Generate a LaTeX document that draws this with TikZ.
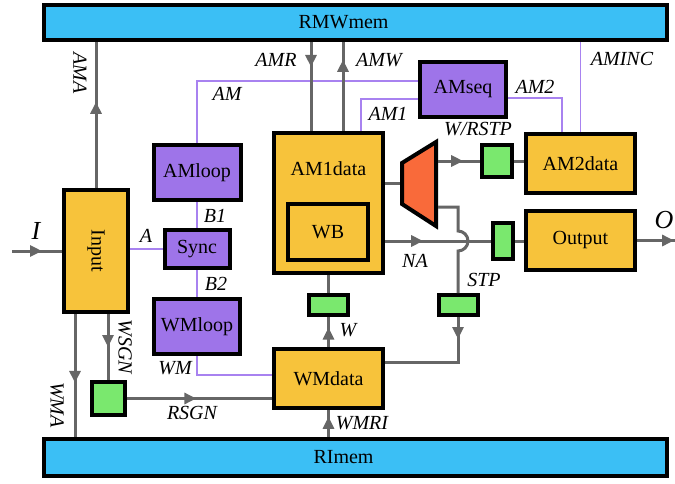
\documentclass[tikz,border=0pt]{standalone}
\usepackage{fontspec}
\setmainfont{Liberation Serif}
\usetikzlibrary{arrows.meta,decorations.markings,calc}
\definecolor{memblue}{RGB}{59,191,245}
\definecolor{datyellow}{RGB}{247,195,59}
\definecolor{ctlpurple}{RGB}{158,116,233}
\definecolor{reggreen}{RGB}{122,232,110}
\definecolor{muxred}{RGB}{249,106,58}
\definecolor{wiregray}{RGB}{102,102,102}
\definecolor{siglilac}{RGB}{168,130,240}
\begin{document}
\begin{tikzpicture}[
    x=1pt, y=-1pt, font=\fontsize{20}{24}\selectfont,
    blk/.style={draw=black, line width=4pt, inner sep=0pt},
    mem/.style={blk, fill=memblue, minimum width=623, minimum height=35},
    dat/.style={blk, fill=datyellow, minimum width=109, minimum height=59},
    ctl/.style={blk, fill=ctlpurple, minimum width=86, minimum height=55},
    reg/.style={blk, fill=reggreen, minimum width=39, minimum height=20},
    muxst/.style={draw=black, line width=4pt, fill=muxred},
    wire/.style={draw=wiregray, line width=3pt},
    sig/.style={draw=siglilac, line width=1.5pt},
    arrat/.style={postaction={decorate, decoration={markings,
        mark=at position #1 with {\arrow{Triangle[length=12pt,width=11pt]}}}}},
    lab/.style={inner sep=0pt, font=\fontsize{20}{24}\selectfont\itshape},
    biglab/.style={inner sep=0pt, font=\fontsize{26}{30}\selectfont\itshape},
]
\useasboundingbox (0,0) rectangle (675,483);
% Memories
\node[mem, label={[anchor=center,xshift=-12pt]center:RMWmem}] (rmw) at (355.5,22.5) {};
\node[mem, minimum height=37, label={[anchor=center,xshift=-12pt]center:RImem}] (rim) at (355.5,457.5) {};
% Data path blocks
\node[dat, minimum width=64, minimum height=122] (inp) at (96,251) {\rotatebox{-90}{Input}};
\node[dat, minimum height=140, label={[anchor=center,yshift=-38pt]north:AM1data}] (am1) at (328.5,203) {};
\node[dat, minimum width=80, minimum height=56] (wb) at (328,232) {WB};
\node[dat] (wmd) at (328.5,378.5) {WMdata};
\node[dat] (am2) at (580.5,163.5) {AM2data};
\node[dat] (out) at (580.5,240.5) {Output};
% Control blocks
\node[ctl] (ams) at (463,89) {AMseq};
\node[ctl, minimum width=87] (aml) at (197,172.5) {AMloop};
\node[ctl, minimum width=65, minimum height=38] (syn) at (197,249) {Sync};
\node[ctl] (wml) at (197,326.5) {WMloop};
% Registers
\node[reg, minimum width=33, minimum height=33] (rsg) at (108,398.5) {};
\node[reg] (wrg) at (328.5,305) {};
\node[reg] (stp) at (458,305) {};
\node[reg, minimum width=30, minimum height=32] (wrr) at (497,161) {};
\node[reg, minimum width=20, minimum height=36] (orr) at (503,241) {};
% Mux
\draw[muxst] (402,163) -- (436,142) -- (436,226) -- (402,204) -- cycle;
\coordinate (muxin) at (400,183.5);
\coordinate (muxA) at (438,161);
\coordinate (muxB) at (438,207);
% Helper points
\coordinate (iin) at (12,251);
\coordinate (oend) at (690,240.5);
\coordinate (wmaX) at ($(inp.south)+(-21,0)$);
\coordinate (wsgX) at ($(inp.south)+(12,0)$);
\coordinate (amrX) at ($(am1.north)+(-17.5,0)$);
\coordinate (amwX) at ($(am1.north)+(14.5,0)$);
\coordinate (hop) at (stp.north |- orr.west);
% Control signals
\draw[sig] ([yshift=8pt]ams.west) -| (aml.north);
\draw[sig] ([yshift=-10pt]ams.west) -| ($(am1.north)+(32.5,0)$);
\draw[sig] ([yshift=-9pt]ams.east) -| ($(am2.north)+(-18.5,0)$);
\draw[sig] (am2.north) -- (am2.north |- rmw.south);
\draw[sig] (aml.south) -- (syn.north);
\draw[sig] (syn.south) -- (wml.north);
\draw[sig] (syn.west) -- (syn.west -| inp.east);
\draw[sig] (wml.south) |- ([yshift=3.5pt]wmd.west);
% Data wires
\draw[wire, arrat=0.6] (iin) -- (inp.west);
\draw[wire, arrat=0.59] (inp.north) -- (inp.north |- rmw.south);
\draw[wire, arrat=0.56] (wmaX) -- (wmaX |- rim.north);
\draw[wire, arrat=0.5] (wsgX) -- (rsg.north);
\draw[wire, arrat=0.48] (rsg.east) -- (rsg.east -| wmd.west);
\draw[wire, arrat=0.75] (wmd.south |- rim.north) -- (wmd.south);
\draw[wire, arrat=0.65] (wmd.north) -- (wrg.south);
\draw[wire] (wrg.north) -- (am1.south);
\draw[wire, arrat=0.28] (amrX |- rmw.south) -- (amrX);
\draw[wire, arrat=0.8] (amwX) -- (amwX |- rmw.south);
\draw[wire] (am1.east |- muxin) -- (muxin);
\draw[wire, arrat=0.6] (muxA) -- (wrr.west |- muxA);
\draw[wire] (wrr.east) -- (wrr.east -| am2.west);
\draw[wire, arrat=0.36] (orr.west -| am1.east) -- (orr.west);
\draw[wire] (muxB) -| ($(hop)+(0,-10)$) arc[start angle=90, end angle=-90, radius=10pt] -- (stp.north);
\draw[wire, arrat=22pt] (stp.south) |- ([yshift=16.5pt]wmd.east);
\draw[wire] (orr.east) -- (orr.east -| out.west);
\draw[wire, arrat=0.7] (out.east) -- (oend);
% Labels
\node[biglab] (lI) at (36,231) {I};
\node[biglab] (lO) at (664,220) {O};
\node[lab, rotate=-90] (lAMA) at (80,73) {AMA};
\node[lab] (lAMR) at (276,60) {AMR};
\node[lab] (lAMW) at (379,60) {AMW};
\node[lab] (lAM) at (227,94) {AM};
\node[lab] (lAM1) at (388,114) {AM1};
\node[lab] (lAM2) at (535,87) {AM2};
\node[lab] (lAMINC) at (622,59) {AMINC};
\node[lab] (lWRSTP) at (478,129) {W/RSTP};
\node[lab] (lB1) at (215,216) {B1};
\node[lab] (lB2) at (216,284) {B2};
\node[lab] (lA) at (146,236) {A};
\node[lab] (lWM) at (175,368) {WM};
\node[lab, rotate=-90] (lWSGN) at (125,347) {WSGN};
\node[lab, rotate=-90] (lWMA) at (57,405) {WMA};
\node[lab] (lRSGN) at (192,413) {RSGN};
\node[lab] (lWMRI) at (362,423) {WMRI};
\node[lab] (lW) at (348,330) {W};
\node[lab] (lNA) at (415,261) {NA};
\node[lab] (lSTP) at (484,280) {STP};
\end{tikzpicture}
\end{document}
